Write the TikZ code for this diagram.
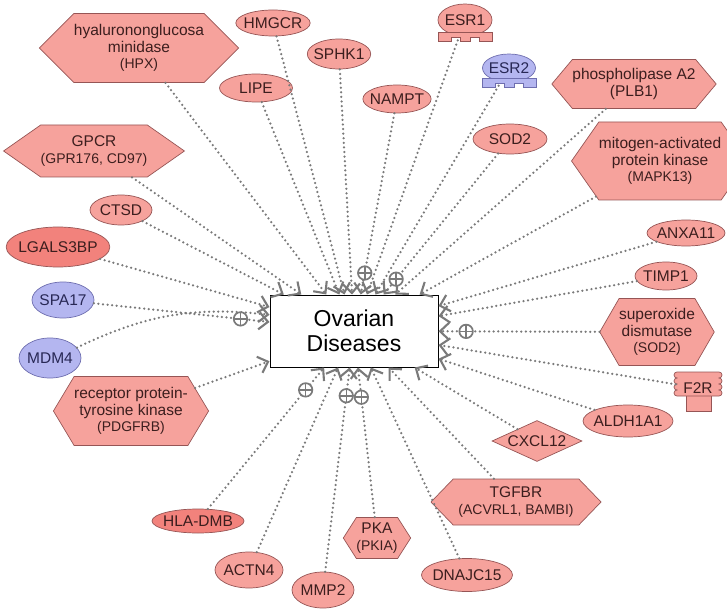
\documentclass[tikz,border=0pt]{standalone}
\usepackage{fontspec}
\setmainfont{Liberation Sans}
\usepackage{tikz}
\usetikzlibrary{positioning}
\usetikzlibrary{calc,shapes.geometric,shapes.symbols}
\usetikzlibrary{arrows.meta}
\definecolor{genefill}{RGB}{246,162,156}
\definecolor{genedeep}{RGB}{242,130,124}
\definecolor{geneblue}{RGB}{180,182,240}
\definecolor{geneline}{RGB}{150,85,85}
\definecolor{blueline}{RGB}{110,110,175}
\definecolor{genetext}{RGB}{60,30,30}
\definecolor{bluetext}{RGB}{40,40,85}
\colorlet{linkgray}{black!52}
\newcommand{\genefont}{\fontsize{15.5}{16.5}\selectfont}
\newcommand{\subfont}{\fontsize{14}{15}\selectfont}
\tikzstyle{gene}=[ellipse,draw=geneline,fill=genefill,line width=0.7pt,inner xsep=-3pt,inner ysep=0pt,font=\genefont,text=genetext]
\tikzstyle{bluegene}=[gene,draw=blueline,fill=geneblue,text=bluetext]
\tikzstyle{family}=[signal,signal to=west and east,draw=geneline,fill=genefill,line width=0.7pt,inner sep=0pt,align=center,font=\genefont,text=genetext]
\tikzstyle{link}=[linkgray,line width=2.5pt,line cap=round,dash pattern=on 0pt off 4.6pt,-{Straight Barb[length=9pt,width=17pt,line width=2.1pt]}]
\tikzstyle{joinmark}=[circle,draw=linkgray,fill=white,line width=1.7pt,minimum size=13.5pt,inner sep=0pt,path picture={\draw[linkgray,line width=1.5pt] (path picture bounding box.north) -- (path picture bounding box.south) (path picture bounding box.west) -- (path picture bounding box.east);}]
\newcommand{\receptorbase}[2]{%
  \draw[#2,line width=0.7pt] ($(#1.south)+(-27,-4)$) -- ++(54,0) -- ++(0,9) -- ++(-13,0) -- ++(0,-4) -- ++(-9,0) -- ++(0,4) -- ++(-10,0) -- ++(0,-4) -- ++(-9,0) -- ++(0,4) -- ++(-13,0) -- cycle;}

\begin{document}
\begin{tikzpicture}[x=1pt,y=-1pt]
\useasboundingbox (0,0) rectangle (727,609);

% Disease
\node[draw=black,fill=white,line width=1pt,minimum width=168pt,minimum height=72pt,align=center,font=\fontsize{23}{25}\selectfont] (OD) at (354,331) {Ovarian\\Diseases};

% Upper genes
\node[family,minimum width=144pt,minimum height=69pt,signal pointer angle=90] (HPX) at (139,48) {hyalurononglucosa\\minidase\\{\subfont(HPX)}};
\node[gene,minimum width=72pt,minimum height=26pt] (HMGCR) at (273,23) {HMGCR};
\node[gene,minimum width=62pt,minimum height=30pt] (SPHK1) at (339,54) {SPHK1};
\node[gene,minimum width=73pt,minimum height=28pt] (LIPE) at (256,88) {LIPE};
\node[gene,minimum width=62pt,minimum height=28pt] (NAMPT) at (397,99) {NAMPT};
\node[gene,minimum width=54pt,minimum height=32pt] (ESR1) at (465,20) {ESR1};
\node[bluegene,minimum width=53pt,minimum height=28pt] (ESR2) at (509,68) {ESR2};
\node[family,minimum width=162pt,minimum height=49pt,signal pointer angle=100] (PLB1) at (634,84) {phospholipase A2\\(PLB1)};
\node[gene,minimum width=74pt,minimum height=30pt] (SOD2) at (510,139) {SOD2};
\node[family,minimum width=166pt,minimum height=52pt,signal pointer angle=70] (GPCR) at (94,151) {GPCR\\{\subfont(GPR176, CD97)}};
\node[family,minimum width=146pt,minimum height=78pt,signal pointer angle=110] (MAPK13) at (660,161) {mitogen-activated\\protein kinase\\{\subfont(MAPK13)}};

% Side genes
\node[gene,minimum width=62pt,minimum height=30pt] (CTSD) at (121,210) {CTSD};
\node[gene,fill=genedeep,minimum width=101pt,minimum height=40pt] (LGALS3BP) at (58,247) {LGALS3BP};
\node[gene,minimum width=78pt,minimum height=26pt] (ANXA11) at (686,233) {ANXA11};
\node[gene,minimum width=62pt,minimum height=28pt] (TIMP1) at (666,276) {TIMP1};
\node[bluegene,minimum width=62pt,minimum height=36pt] (SPA17) at (63,300) {SPA17};
\node[family,minimum width=105pt,minimum height=67pt,signal pointer angle=120] (SODdis) at (657,332) {superoxide\\dismutase\\{\subfont(SOD2)}};
\node[bluegene,minimum width=62pt,minimum height=40pt] (MDM4) at (50,358) {MDM4};
\node[family,minimum width=153pt,minimum height=69pt,signal pointer angle=118] (PDGFRB) at (131,411) {receptor protein-\\tyrosine kinase\\{\subfont(PDGFRB)}};

% F2R receptor
\draw[geneline,fill=genefill,line width=0.7pt] (686,393) rectangle (711,411);
\draw[geneline,fill=genefill,line width=0.7pt] (677,372) -- (719,372)
  arc[start angle=-90,end angle=90,radius=3] arc[start angle=-90,end angle=90,radius=3]
  arc[start angle=-90,end angle=90,radius=3] arc[start angle=-90,end angle=90,radius=3]
  -- (677,396)
  arc[start angle=90,end angle=270,radius=3] arc[start angle=90,end angle=270,radius=3]
  arc[start angle=90,end angle=270,radius=3] arc[start angle=90,end angle=270,radius=3] -- cycle;
\node[font=\genefont,text=genetext,minimum width=44pt,minimum height=24pt,inner sep=0pt] (F2R) at (698,388) {F2R};

% Lower genes
\node[gene,minimum width=90pt,minimum height=32pt] (ALDH1A1) at (628,421) {ALDH1A1};
\node[diamond,draw=geneline,fill=genefill,line width=0.7pt,inner sep=0pt,aspect=2.2,minimum width=90pt,minimum height=41pt,font=\genefont,text=genetext] (CXCL12) at (537,441) {CXCL12};
\node[family,minimum width=170pt,minimum height=46pt,signal pointer angle=92] (TGFBR) at (516,502) {TGFBR\\{\subfont(ACVRL1, BAMBI)}};
\node[gene,fill=genedeep,minimum width=92pt,minimum height=24pt] (HLADMB) at (198,521) {HLA-DMB};
\node[gene,minimum width=68pt,minimum height=36pt] (ACTN4) at (249,570) {ACTN4};
\node[gene,minimum width=62pt,minimum height=36pt] (MMP2) at (323,590) {MMP2};
\node[family,minimum width=66pt,minimum height=41pt,signal pointer angle=115] (PKA) at (377,538) {PKA\\{\subfont(PKIA)}};
\node[gene,minimum width=91pt,minimum height=33pt] (DNAJC15) at (467,575) {DNAJC15};

% Links to the disease
\draw[link] (HPX) -- (OD);
\draw[link] (HMGCR) -- (OD);
\draw[link] (SPHK1) -- (OD);
\draw[link] (LIPE) -- (OD);
\draw[link] (NAMPT) -- (OD);
\draw[link] (ESR1) -- (OD);
\draw[link] (ESR2) -- (OD);
\draw[link] (PLB1) -- (OD);
\draw[link] (SOD2) -- (OD);
\draw[link] (GPCR) -- (OD);
\draw[link] (MAPK13) -- (OD);
\draw[link] (CTSD) -- (OD);
\draw[link] (LGALS3BP) -- (OD);
\draw[link] (ANXA11) -- (OD);
\draw[link] (TIMP1) -- (OD);
\draw[link] (SPA17) -- (OD);
\draw[link] (SODdis) -- (OD);
\draw[link] (MDM4) to[bend left=16] (OD);
\draw[link] (PDGFRB) -- (OD);
\draw[link] (F2R) -- (OD);
\draw[link] (ALDH1A1) -- (OD);
\draw[link] (CXCL12) -- (OD);
\draw[link] (TGFBR) -- (OD);
\draw[link] (HLADMB) -- (OD);
\draw[link] (ACTN4) -- (OD);
\draw[link] (MMP2) -- (OD);
\draw[link] (PKA) -- (OD);
\draw[link] (DNAJC15) -- (OD);

% Receptor feet
\receptorbase{ESR1}{draw=geneline,fill=genefill}
\receptorbase{ESR2}{draw=blueline,fill=geneblue}

% Leads-to marks
\node[joinmark] (mNAMPT) at ($(OD)!0.25!(NAMPT)$) {};
\node[joinmark] (mSOD2) at ($(OD)!0.27!(SOD2)$) {};
\node[joinmark] (mSPA17) at ($(OD)!0.39!(SPA17)$) {};
\node[joinmark] (mSODdis) at ($(OD)!0.37!(SODdis)$) {};
\node[joinmark] (mHLADMB) at ($(OD)!0.31!(HLADMB)$) {};
\node[joinmark] (mMMP2) at ($(OD)!0.25!(MMP2)$) {};
\node[joinmark] (mPKA) at ($(OD)!0.32!(PKA)$) {};

\end{tikzpicture}
\end{document}
